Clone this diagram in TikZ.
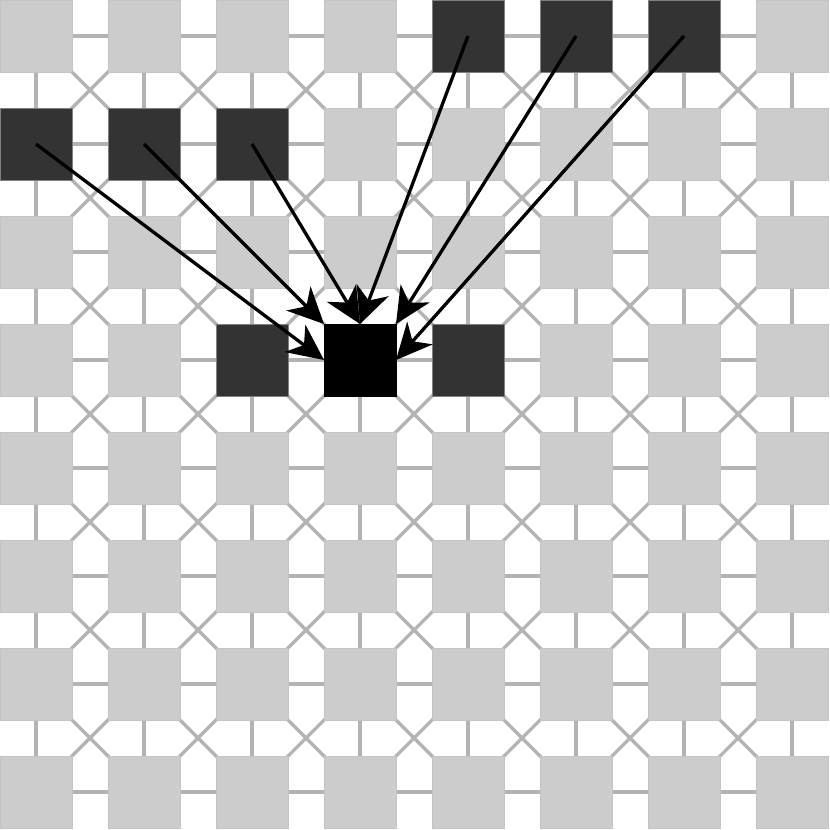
\documentclass[tikz,border=0pt]{standalone}
\usetikzlibrary{arrows.meta}
\definecolor{tile}{HTML}{CCCCCC}
\definecolor{tileedge}{HTML}{C4C4C4}
\definecolor{link}{HTML}{B3B3B3}
\definecolor{dark}{HTML}{333333}
\definecolor{darkedge}{HTML}{808080}
\begin{document}
\begin{tikzpicture}[x=1pt,y=-1pt,
  linkline/.style={draw=link, line width=3.2pt},
  tilebox/.style={rectangle, minimum size=72pt, inner sep=0pt, outer sep=0pt, line width=0.8pt},
  arrowline/.style={draw=black, line width=3.3pt, -{Stealth[length=36pt,width=34pt,inset=11pt]}}]
\useasboundingbox (0,0) rectangle (830,830);
\fill[white] (0,0) rectangle (830,830);
% links
\foreach \r in {0,...,7}{
  \foreach \c in {0,...,6}{
    \draw[linkline] ({108*\c+68},{108*\r+36}) -- ({108*\c+112},{108*\r+36});
    \draw[linkline] ({108*\r+36},{108*\c+68}) -- ({108*\r+36},{108*\c+112});
  }
}
\foreach \r in {0,...,6}{
  \foreach \c in {0,...,6}{
    \draw[linkline] ({108*\c+68},{108*\r+68}) -- ({108*\c+112},{108*\r+112});
    \draw[linkline] ({108*\c+112},{108*\r+68}) -- ({108*\c+68},{108*\r+112});
  }
}
% tiles
\foreach \r in {0,...,7}{
  \foreach \c in {0,...,7}{
    \def\fillc{tile}\def\edgec{tileedge}
    \ifnum\r=0 \ifnum\c>3 \ifnum\c<7 \def\fillc{dark}\def\edgec{darkedge}\fi\fi\fi
    \ifnum\r=1 \ifnum\c<3 \def\fillc{dark}\def\edgec{darkedge}\fi\fi
    \ifnum\r=3
      \ifnum\c=2 \def\fillc{dark}\def\edgec{darkedge}\fi
      \ifnum\c=4 \def\fillc{dark}\def\edgec{darkedge}\fi
      \ifnum\c=3 \def\fillc{black}\def\edgec{black}\fi
    \fi
    \node[tilebox, fill=\fillc, draw=\edgec] (s-\c-\r) at ({108*\c+36},{108*\r+36}) {};
  }
}
% arrows
\draw[arrowline] (s-0-1.center) -- (s-3-3.west);
\draw[arrowline] (s-1-1.center) -- (s-3-3.north west);
\draw[arrowline] (s-2-1.center) -- (s-3-3.north);
\draw[arrowline] (s-4-0.center) -- (s-3-3.north);
\draw[arrowline] (s-5-0.center) -- (s-3-3.north east);
\draw[arrowline] (s-6-0.center) -- (s-3-3.east);
\end{tikzpicture}
\end{document}
